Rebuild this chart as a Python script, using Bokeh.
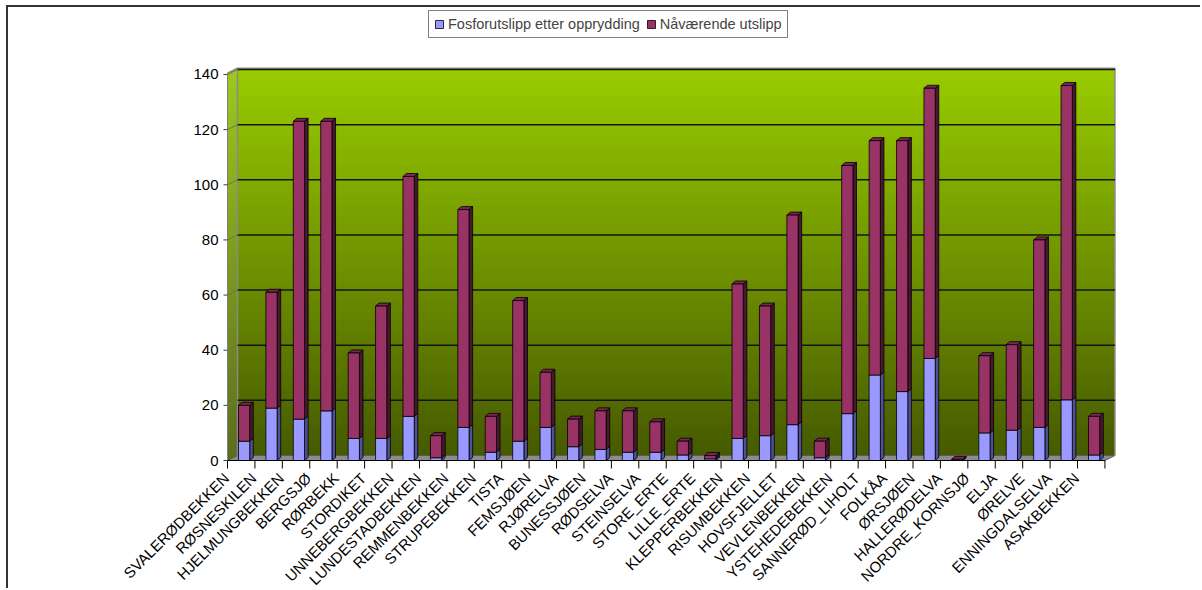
import numpy as np
from bokeh.plotting import figure
from bokeh.models import Range1d, Legend, LegendItem, ColumnDataSource
from bokeh.core.properties import value
from bokeh.embed import file_html
from bokeh.resources import INLINE

# Phosphorus discharge per catchment: after clean-up and the remaining part of today's discharge
names = ["SVALERØDBEKKEN", "RØSNESKILEN", "HJELMUNGBEKKEN", "BERGSJØ", "RØRBEKK",
         "STORDIKET", "UNNEBERGBEKKEN", "LUNDESTADBEKKEN", "REMMENBEKKEN",
         "STRUPEBEKKEN", "TISTA", "FEMSJØEN", "RJØRELVA", "BUNESSJØEN", "RØDSELVA",
         "STEINSELVA", "STORE_ERTE", "LILLE_ERTE", "KLEPPERBEKKEN", "RISUMBEKKEN",
         "HOVSFJELLET", "VEVLENBEKKEN", "YSTEHEDEBEKKEN", "SANNERØD_LIHOLT", "FOLKÅA",
         "ØRSJØEN", "HALLERØDELVA", "NORDRE_KORNSJØ", "ELJA", "ØRELVE",
         "ENNINGDALSELVA", "ASAKBEKKEN"]
etter_opprydding = [7, 19, 15, 18, 8, 8, 16, 1, 12, 3, 7, 12, 5, 4, 3, 3, 2, 0.6,
                    8, 9, 13, 1, 17, 31, 25, 37, 0, 10, 11, 12, 22, 2]
naavaerende = [13, 42, 108, 105, 31, 48, 87, 8, 79, 13, 51, 20, 10, 14, 15, 11, 5, 1.2,
               56, 47, 76, 6, 90, 85, 91, 98, 0.4, 28, 31, 68, 114, 14]
y_ticks = [0, 20, 40, 60, 80, 100, 120, 140]
series_labels = ["Fosforutslipp etter opprydding", "Nåværende utslipp"]

FONT = "Liberation Sans"
n = len(names)

# 3D geometry (in data units)
DX, DY = 0.365, 1.81        # wall depth
BDX, BDY = 0.13, 1.1        # bar depth
B_L, B_R = 0.40, 0.81       # bar front face inside its category
WALL_TOP = 140.5 + DY
X_END = n + DX
TICK_LEN = 2.9              # category tick length below the floor
YTICK_LEN = 0.146           # value tick length left of the axis

# the whole canvas is the plotting frame; axes are drawn as glyphs
p = figure(width=1194, height=583, output_backend="svg", toolbar_location=None,
           x_range=Range1d(-7.987, 35.558), y_range=Range1d(-47.15, 164.3),
           x_axis_location=None, y_axis_location=None,
           min_border_left=0, min_border_right=0, min_border_top=0, min_border_bottom=0)
p.styles = {"margin-left": "6px", "margin-top": "5px",
            "border-left": "2px solid #333333", "border-top": "2px solid #333333"}
p.outline_line_color = None
p.xgrid.visible = False
p.ygrid.visible = False
p.background_fill_color = "white"

top_c, bot_c = (153, 204, 0), (70, 90, 0)

# gradient back wall
N = 256
t = (np.arange(N) + 0.5) / N
img = np.zeros((N, 2), dtype=np.uint32)
view = img.view(dtype=np.uint8).reshape((N, 2, 4))
for k in range(3):
    view[:, :, k] = np.round(bot_c[k] + (top_c[k] - bot_c[k]) * t)[:, None]
view[:, :, 3] = 255
p.image_rgba(image=[img], x=DX, y=DY, dw=n, dh=WALL_TOP - DY)


def mix(c1, c2, f):
    return "#%02x%02x%02x" % tuple(int(round(a + (b - a) * f)) for a, b in zip(c1, c2))


# side wall, in thin slanted strips
M = 90
edges = np.linspace(0, WALL_TOP - DY, M + 1)
side_x, side_y, side_c = [], [], []
for i in range(M):
    b, tp = edges[i], edges[i + 1]
    side_x.append([0, DX, DX, 0])
    side_y.append([b, b + DY, tp + DY, tp])
    base = tuple(bot_c[k] + (top_c[k] - bot_c[k]) * (i + 0.5) / M for k in range(3))
    side_c.append(mix(base, (175, 180, 150), 0.2))
p.patches(side_x, side_y, fill_color=side_c, line_color=side_c, line_width=1)

# floor
p.patch([0, n, n + DX, DX], [0, 0, DY, DY], fill_color="#8c8c8c", line_color="#5a5a5a",
        line_width=1)

# wall edges
p.line([DX, DX, X_END, X_END], [DY, WALL_TOP, WALL_TOP, DY], line_color="#8a8a8a", line_width=1.5)
p.line([0, DX], [140.5, WALL_TOP], line_color="#8a8a8a", line_width=1.5)

# gridlines on back wall and side wall
gv = [v for v in y_ticks if v > 0]
p.segment(x0=DX, x1=X_END, y0=[v + DY for v in gv], y1=[v + DY for v in gv],
          line_color="#141414", line_width=1.5)
p.segment(x0=0, x1=DX, y0=gv, y1=[v + DY for v in gv], line_color="#6b7a40", line_width=1)

# stacked 3D bars
blue = np.array(etter_opprydding, dtype=float)
red = np.array(naavaerende, dtype=float)
idx = np.arange(n)
left = idx + B_L
right = idx + B_R


def side_faces(bottom, top):
    xs = [[r, r + BDX, r + BDX, r] for r in right]
    ys = [[b, b + BDY, tp + BDY, tp] for b, tp in zip(bottom, top)]
    return xs, ys


def top_faces(top):
    xs = [[l, l + BDX, r + BDX, r] for l, r in zip(left, right)]
    ys = [[tp, tp + BDY, tp + BDY, tp] for tp in top]
    return xs, ys


blue_src = ColumnDataSource(dict(left=left, right=right, bottom=np.zeros(n), top=blue))
red_src = ColumnDataSource(dict(left=left, right=right, bottom=blue, top=blue + red))

bx, by = side_faces(np.zeros(n), blue)
p.patches(bx, by, fill_color="#4f4f9a", line_color="black", line_width=0.8)
rb_front = p.quad(left="left", right="right", bottom="bottom", top="top", source=blue_src,
                  fill_color="#9999ff", line_color="black", line_width=0.8)

rx, ry = side_faces(blue, blue + red)
p.patches(rx, ry, fill_color="#4a1733", line_color="black", line_width=0.8)
tx, ty = top_faces(blue + red)
p.patches(tx, ty, fill_color="#7a2552", line_color="black", line_width=0.8)
rr_front = p.quad(left="left", right="right", bottom="bottom", top="top", source=red_src,
                  fill_color="#993366", line_color="black", line_width=0.8)

# category axis: baseline, boundary ticks and slanted labels
p.segment(x0=0, x1=n, y0=0, y1=0, line_color="black", line_width=1)
bounds = np.arange(n + 1)
p.segment(x0=bounds, x1=bounds, y0=0, y1=-TICK_LEN, line_color="black", line_width=1)
p.text(x=idx + 0.5, y=0, text=names, angle=np.pi / 4, x_offset=-21, y_offset=9,
       text_align="right", text_baseline="top", text_font=value(FONT),
       text_font_size="15px", text_color="black")

# value axis: line, ticks and labels
p.segment(x0=0, x1=0, y0=0, y1=140, line_color="#808080", line_width=1)
p.segment(x0=-YTICK_LEN, x1=0, y0=y_ticks, y1=y_ticks, line_color="#404040", line_width=1)
p.text(x=0, y=y_ticks, text=[str(v) for v in y_ticks], x_offset=-9,
       text_align="right", text_baseline="middle", text_font=value(FONT),
       text_font_size="15px", text_color="black")

legend = Legend(items=[LegendItem(label=series_labels[0], renderers=[rb_front]),
                       LegendItem(label=series_labels[1], renderers=[rr_front])],
                orientation="horizontal", location=(420, 552))
legend.label_text_font = FONT
legend.label_text_font_size = "14.5px"
legend.label_height = 16
legend.glyph_width = 10
legend.glyph_height = 10
legend.label_standoff = 4
legend.spacing = 6
legend.padding = 5
legend.margin = 0
legend.border_line_color = "black"
legend.border_line_width = 1
legend.background_fill_color = "white"
legend.background_fill_alpha = 1
p.add_layout(legend, "center")

open("out.html", "w").write(file_html(p, INLINE))
